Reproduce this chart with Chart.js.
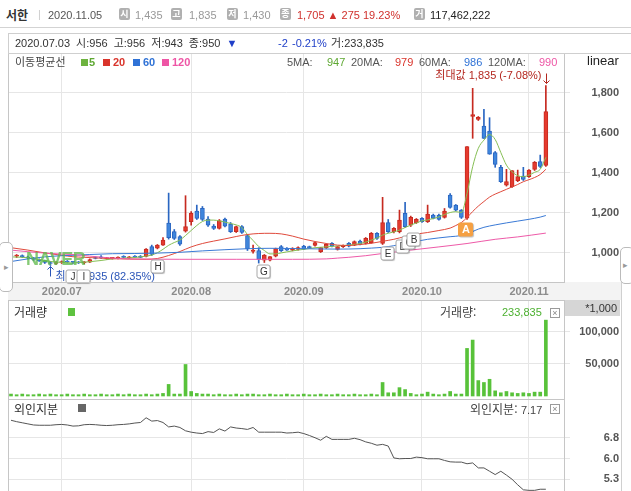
<!DOCTYPE html>
<html lang="ko">
<head>
<meta charset="utf-8">
<title>서한</title>
<script src="https://cdn.jsdelivr.net/npm/chart.js@4.4.1/dist/chart.umd.min.js"></script>
<style>
  body { margin:0; width:631px; height:491px; overflow:hidden; position:relative; background:#fff;
    font-family:"Liberation Sans","Noto Sans CJK KR",sans-serif; font-size:11px; color:#333; }
  .a { position:absolute; white-space:nowrap; line-height:13px; }
  canvas { position:absolute; left:8px; }
  .ico { position:absolute; top:8px; width:11px; height:12px; background:#b0b0b0; border-radius:2px; color:#fff;
    font:bold 9px/12px "Noto Sans CJK KR"; text-align:center; }
  .sq { position:absolute; width:7px; height:7px; }
  .kr { font-family:"Noto Sans CJK KR"; }
  .x { position:absolute; width:8px; height:8px; border:1px solid #9a9a9a; font:9px/8px "Liberation Sans"; color:#888; text-align:center; }
  .tab { position:absolute; width:12px; border:1px solid #bbb; background:#fff; border-radius:5px; color:#999; font-size:9px; }
</style>
</head>
<body>
<!-- backgrounds -->
<div class="a" style="left:0;top:0;width:631px;height:27px;border-bottom:1px solid #d3d3d3"></div>
<div class="a" style="left:8px;top:282px;width:614px;height:18px;background:#f3f3f3"></div>
<div class="a" style="left:621px;top:282px;width:1px;height:209px;background:#d0d0d0"></div>

<canvas id="price" width="611" height="247" style="top:53px"></canvas>
<canvas id="vol" width="611" height="99" style="top:300px"></canvas>
<canvas id="frgn" width="611" height="100" style="top:399px"></canvas>

<!-- top quote bar -->
<div class="a kr" style="left:6px;top:8px;font-size:12px;font-weight:bold;color:#333">서한</div>
<div class="a" style="left:38px;top:8px;color:#ccc">|</div>
<div class="a" style="left:48px;top:9px;color:#555">2020.11.05</div>
<div class="ico" style="left:119px">시</div><div class="a" style="left:135px;top:9px;color:#999">1,435</div>
<div class="ico" style="left:171px">고</div><div class="a" style="left:189px;top:9px;color:#999">1,835</div>
<div class="ico" style="left:227px">저</div><div class="a" style="left:243px;top:9px;color:#999">1,430</div>
<div class="ico" style="left:280px">종</div><div class="a" style="left:297px;top:9px;color:#d0312d">1,705 ▲ 275 19.23%</div>
<div class="ico" style="left:414px">거</div><div class="a" style="left:430px;top:9px;color:#222">117,462,222</div>

<!-- crosshair info -->
<div class="a" style="left:8px;top:33px;width:623px;height:21px;box-sizing:border-box;border:1px solid #cfcfcf;border-right:none"></div>
<div class="a" style="left:15px;top:37px;color:#333;word-spacing:3px">2020.07.03 시:956 고:956 저:943 종:950 <span style="color:#1f3fc8">▼</span></div>
<div class="a" style="left:278px;top:37px;color:#1f3fc8">-2</div>
<div class="a" style="left:292px;top:37px;color:#1f3fc8">-0.21%</div>
<div class="a" style="left:331px;top:37px;color:#333">거:233,835</div>

<!-- MA legend -->
<div class="a kr" style="left:15px;top:55px;color:#444">이동평균선</div>
<div class="sq" style="left:81px;top:59px;background:#6db33f"></div><div class="a" style="left:89px;top:56px;color:#5ea832;font-weight:bold">5</div>
<div class="sq" style="left:103px;top:59px;background:#d9342b"></div><div class="a" style="left:113px;top:56px;color:#d9342b;font-weight:bold">20</div>
<div class="sq" style="left:133px;top:59px;background:#2f72d6"></div><div class="a" style="left:143px;top:56px;color:#2f72d6;font-weight:bold">60</div>
<div class="sq" style="left:162px;top:59px;background:#ee55a5"></div><div class="a" style="left:172px;top:56px;color:#ee55a5;font-weight:bold">120</div>
<div class="a" style="left:287px;top:56px;color:#555">5MA:</div><div class="a" style="left:327px;top:56px;color:#5ea832">947</div>
<div class="a" style="left:351px;top:56px;color:#555">20MA:</div><div class="a" style="left:395px;top:56px;color:#d9342b">979</div>
<div class="a" style="left:419px;top:56px;color:#555">60MA:</div><div class="a" style="left:464px;top:56px;color:#2f72d6">986</div>
<div class="a" style="left:488px;top:56px;color:#555">120MA:</div><div class="a" style="left:539px;top:56px;color:#ee55a5">990</div>
<div class="a" style="left:587px;top:54px;color:#222;font-size:13px">linear</div>

<div class="a" style="left:26px;top:253px;font-size:18px;font-weight:bold;color:#5cb848;opacity:.75;letter-spacing:-0.5px">NAVER</div>

<!-- volume header -->
<div class="a kr" style="left:14px;top:305px;font-size:12px;color:#333">거래량</div>
<div class="sq" style="left:68px;top:308px;width:7px;height:8px;background:#5ec23f"></div>
<div class="a kr" style="left:440px;top:305px;font-size:12px;color:#444">거래량:</div>
<div class="a" style="left:502px;top:306px;color:#4cb030">233,835</div>
<div class="x" style="left:550px;top:308px">×</div>
<div class="a" style="left:565px;top:300px;width:55px;height:16px;background:#d6d6d6;text-align:right;color:#333;line-height:16px"><span style="padding-right:3px">*1,000</span></div>

<!-- foreign ownership header -->
<div class="a kr" style="left:14px;top:402px;font-size:12px;color:#333">외인지분</div>
<div class="sq" style="left:78px;top:404px;width:8px;height:8px;background:#666"></div>
<div class="a kr" style="left:470px;top:402px;font-size:12px;color:#444">외인지분: <span style="font-family:'Liberation Sans';font-size:11px">7.17</span></div>
<div class="x" style="left:550px;top:404px">×</div>

<!-- side tabs -->
<div class="tab" style="left:-1px;top:242px;height:48px;line-height:48px;text-align:center">▸</div>
<div class="tab" style="left:620px;top:247px;height:35px;line-height:35px;text-indent:2px">▸</div>

<script>
// trading days shown on the chart
const dates = [
  '2020.06.18','2020.06.19','2020.06.22','2020.06.23','2020.06.24','2020.06.25','2020.06.26','2020.06.29','2020.06.30',
  '2020.07.01','2020.07.02','2020.07.03','2020.07.06','2020.07.07','2020.07.08','2020.07.09','2020.07.10','2020.07.13','2020.07.14',
  '2020.07.15','2020.07.16','2020.07.17','2020.07.20','2020.07.21','2020.07.22','2020.07.23','2020.07.24','2020.07.27','2020.07.28',
  '2020.07.29','2020.07.30','2020.07.31',
  '2020.08.03','2020.08.04','2020.08.05','2020.08.06','2020.08.07','2020.08.10','2020.08.11','2020.08.12','2020.08.13','2020.08.14',
  '2020.08.18','2020.08.19','2020.08.20','2020.08.21','2020.08.24','2020.08.25','2020.08.26','2020.08.27','2020.08.28','2020.08.31',
  '2020.09.01','2020.09.02','2020.09.03','2020.09.04','2020.09.07','2020.09.08','2020.09.09','2020.09.10','2020.09.11','2020.09.14',
  '2020.09.15','2020.09.16','2020.09.17','2020.09.18','2020.09.21','2020.09.22','2020.09.23','2020.09.24','2020.09.25','2020.09.28',
  '2020.09.29',
  '2020.10.05','2020.10.06','2020.10.07','2020.10.08','2020.10.12','2020.10.13','2020.10.14','2020.10.15','2020.10.16','2020.10.19',
  '2020.10.20','2020.10.21','2020.10.22','2020.10.23','2020.10.26','2020.10.27','2020.10.28','2020.10.29','2020.10.30',
  '2020.11.02','2020.11.03','2020.11.04','2020.11.05'
]

const open = [985,982,985,978,972,965,958,950,945,950, 955,956,950,948,952,975,978,970,971,972,
  980,973,980,981,980,1029,1022,1037,1147,1104, 1079,1107,1154,1207,1221,1167,1132,1121,1167,1142,
  1104,1129,1085,1005,1009,962,962,982,1029,1020, 1012,1016,1032,1029,1036,1004,1024,1046,1016,1029,
  1046,1037,1057,1046,1049,1096,1046,1149,1104,1104, 1196,1137,1149,1171,1154,1187,1187,1176,1287,1237,
  1212,1172,1680,1666,1632,1607,1499,1426,1337,1329, 1359,1382,1379,1416,1454,1435]
const high = [992,990,988,982,975,968,962,955,955,958, 960,956,955,955,968,978,985,975,976,978,
  984,980,985,985,1020,1037,1040,1075,1297,1115, 1085,1284,1204,1237,1230,1180,1140,1165,1172,1150,
  1132,1135,1090,1037,1024,990,980,1022,1035,1025, 1024,1028,1036,1032,1052,1026,1044,1050,1030,1038,
  1050,1058,1062,1075,1100,1100,1276,1165,1125,1212, 1251,1182,1170,1175,1237,1192,1192,1220,1295,1240,
  1215,1530,1821,1680,1716,1674,1505,1436,1416,1409, 1412,1426,1415,1455,1487,1835]
const low = [978,975,975,968,960,955,945,935,940,945, 948,943,945,944,950,968,970,966,967,968,
  974,970,975,974,978,985,1018,1035,1067,1065, 1035,1102,1137,1165,1160,1130,1115,1117,1128,1100,
  1100,1096,1010,997,947,950,958,978,1005,1010, 1008,1012,1014,1020,1032,1000,1020,1028,1012,1025,
  1028,1034,1038,1042,1046,1066,1040,1100,1098,1098, 1125,1130,1145,1150,1150,1168,1162,1172,1222,1208,
  1170,1165,1571,1660,1571,1491,1426,1350,1332,1325, 1354,1360,1375,1410,1425,1430]
const close = [982,985,978,972,965,958,950,945,950,952, 952,950,948,950,965,970,973,973,974,975,
  976,978,977,976,1017,990,1037,1062,1074,1071, 1042,1129,1196,1171,1166,1137,1121,1159,1132,1104,
  1129,1100,1018,1012,966,987,979,1020,1009,1012, 1021,1024,1017,1024,1049,1024,1041,1032,1029,1036,
  1032,1054,1041,1071,1096,1071,1149,1104,1121,1162, 1129,1176,1166,1154,1192,1171,1166,1207,1226,1212,
  1176,1530,1690,1676,1571,1492,1441,1354,1354,1409, 1379,1366,1412,1451,1430,1705]

// moving averages (null = not read, line spans the gap)
const ma5 = [978,null,976,null,970,null,960,null,952,null, 950,947,950,null,954,null,960,null,968,null,
  972,null,975,null,982,987,999,1016,1036,1050, 1062,1085,1110,1135,1155,1162,1162,1158,1152,1145,
  1138,1125,1090,1060,1030,1010,993,993,998,1003, 1008,1012,1016,1020,1024,null,1028,null,1033,null,
  1037,null,1045,1052,1062,1072,1087,1096,1103,1112, 1125,1137,1148,1158,1163,1170,1178,1190,1200,1204,
  1200,1296,1429,1521,1562,1590,1565,1500,1437,1404, 1384,1379,1387,1401,1416,1476]
const ma20 = [1024,null,null,1012,null,null,998,null,null,986, null,979,null,976,null,973,null,null,969,null,
  null,967,null,null,966,null,970,null,985,null, 1005,null,1028,null,1045,null,1057,null,1068,null,
  1080,null,1090,null,1095,null,1096,null,1093,null, 1082,null,1067,null,1055,null,1045,null,1037,null,
  1035,null,1040,null,1046,null,1056,null,1066,null, 1080,null,1092,null,1100,null,1110,null,1122,1135,
  1150,1175,1205,1232,1255,1277,1292,1304,1316,1328, 1340,1354,1364,1375,1390,1416]
const ma60 = [955,null,null,968,null,null,978,null,null,984, null,986,null,null,990,null,null,null,994,null,
  null,null,995,null,null,null,997,null,null,null, 1001,null,null,null,1008,null,null,null,1014,null,
  null,null,1019,null,null,null,1021,null,null,null, 1020,null,null,null,1018,null,null,null,1017,null,
  null,null,1019,null,1022,null,1026,null,1034,null, 1045,null,1056,null,1066,null,1073,null,1079,null,
  1085,1094,1105,1117,1126,null,1138,null,1148,null, 1157,null,1166,null,1177,1185]
const ma120 = [1012,null,null,1004,null,null,997,null,null,992, null,990,null,null,982,null,null,974,null,null,
  969,null,null,null,967,null,null,null,null,null, 966,null,null,null,null,null,null,null,null,null,
  966,null,null,null,null,null,null,null,null,null, 966,null,null,null,null,null,968,null,972,null,
  976,null,null,984,null,null,995,null,null,null, null,1012,null,null,null,null,1028,null,null,null,
  null,1045,null,null,null,null,1066,null,null,null, 1078,null,null,null,null,1097]

// volume in thousands of shares
const volume = [3,2,3,2,2,3,2,3,2,2, 3,2,2,3,2,2,3,2,2,3, 2,3,2,2,3,2,3,4,18,3,
  3,49,7,4,3,3,2,3,2,2, 3,2,3,3,2,2,3,2,2,3, 2,2,3,2,2,3,2,2,3,2,
  2,3,2,2,3,2,21,5,5,13, 10,4,2,3,6,3,2,3,7,3, 3,74,87,24,21,26,8,5,7,5, 4,5,4,6,6,118]

// foreign ownership, %
const foreign = [7.38,7.33,7.29,7.25,7.21,7.20,7.20,7.20,7.22,7.23, 7.21,7.17,7.18,7.22,7.23,7.22,7.20,7.19,7.20,7.22,
  7.23,7.25,7.28,7.30,7.47,7.35,7.37,7.30,7.14,7.17, 7.12,7.00,6.95,6.92,6.90,6.97,6.94,7.07,6.99,7.14,
  7.10,7.08,7.05,7.12,6.95,6.95,6.95,6.95,6.95,6.92, 6.93,6.95,6.90,6.83,6.75,6.66,6.80,6.69,6.69,6.69,
  6.69,6.73,6.68,6.60,6.55,6.48,6.51,6.45,6.02,5.99, 6.00,6.00,6.05,6.03,5.99,5.99,5.99,5.93,5.88,5.87,
  5.87,5.81,5.84,5.66,5.66,5.54,5.42,5.54,5.40,5.25, 5.05,4.87,4.85,4.85,4.89,4.89]

const priceTicks = [1000, 1200, 1400, 1600, 1800]
const volumeTicks = [50, 100]
const foreignTicks = [5.25, 6.0, 6.75]

// event flags on the price pane: letter, day index, price level
const flagText = ['J', 'I', 'H', 'G', 'E', 'D', 'C', 'B', 'A']
const flagDay = [10.8, 12.8, 25.9, 44.7, 66.7, 69.4, 70.5, 71.4, 80.7]
const flagPrice = [882, 882, 935, 907, 1000, 1032, 1052, 1067, 1117]

const RED = '#e53a2e', RED_D = '#c62a20', BLUE = '#3f86dc', BLUE_D = '#2a66c2'

Chart.defaults.font.family = '"Liberation Sans", "Noto Sans CJK KR", sans-serif'
Chart.defaults.animation = false
Chart.defaults.responsive = false
Chart.defaults.events = []
Chart.defaults.plugins.legend.display = false
Chart.defaults.plugins.tooltip.enabled = false

const monthStart = dates.map((d, i) => i).filter(i => i > 0 && dates[i].slice(0, 7) !== dates[i - 1].slice(0, 7))

// the panes share one pixel grid, so scales must not pad themselves
const noPad = axis => { axis.paddingTop = axis.paddingBottom = axis.paddingLeft = axis.paddingRight = 0 }

const timeAxis = withLabels => ({
  type: 'linear', min: -0.533, max: 98.4, offset: false,
  afterBuildTicks: axis => { axis.ticks = monthStart.map(v => ({ value: v })) },
  afterFit: axis => { axis.height = withLabels ? 18 : 0; noPad(axis) },
  grid: { color: '#e6e6e6', drawTicks: false, offset: false },
  border: { display: false },
  ticks: {
    display: withLabels, padding: 3, autoSkip: false, maxRotation: 0, color: '#8c8c8c',
    font: { size: 11, weight: 'bold' },
    callback: v => dates[v] ? dates[v].slice(0, 7) : ''
  }
})

// labels are right-aligned on the canvas edge (page x 619)
const valueAxis = (min, max, ticks, fmt) => ({
  position: 'right', min, max,
  afterBuildTicks: axis => { axis.ticks = ticks.map(v => ({ value: v })) },
  afterFit: axis => { axis.width = 54; noPad(axis) },
  grid: { color: '#e6e6e6', tickLength: 5 },
  border: { display: false },
  ticks: { crossAlign: 'far', padding: 0, color: '#555', font: { size: 11, weight: 'bold' }, callback: fmt }
})

const frame = {
  id: 'frame',
  beforeDraw(chart) {
    const { ctx, chartArea: a } = chart
    ctx.save()
    ctx.fillStyle = '#fff'
    ctx.fillRect(a.left, a.top, a.width, a.height)
    ctx.restore()
  },
  afterDraw(chart) {
    const { ctx, chartArea: a } = chart
    ctx.save()
    ctx.strokeStyle = '#c6c6c6'
    ctx.lineWidth = 1
    ctx.strokeRect(a.left + 0.5, a.top + 0.5, a.width - 1, a.height)
    ctx.restore()
  }
}

const arrow = (ctx, x, y0, y1) => {
  const dir = y1 > y0 ? 1 : -1
  ctx.beginPath()
  ctx.moveTo(x, y0); ctx.lineTo(x, y1)
  ctx.moveTo(x - 3, y1 - 3 * dir); ctx.lineTo(x, y1); ctx.lineTo(x + 3, y1 - 3 * dir)
  ctx.stroke()
}

// max / min labels and event flags
const notes = {
  id: 'notes',
  afterDatasetsDraw(chart) {
    const { ctx, scales: { x, y } } = chart
    const last = close[close.length - 1]
    const hi = Math.max(...high), iHi = high.indexOf(hi)
    const lo = Math.min(...low), iLo = low.indexOf(lo)
    ctx.save()
    ctx.font = '11px "Liberation Sans", "Noto Sans CJK KR"'
    ctx.textBaseline = 'middle'
    ctx.lineWidth = 1

    let px = Math.round(x.getPixelForValue(iHi)) + 0.5, py = y.getPixelForValue(hi)
    ctx.strokeStyle = ctx.fillStyle = '#b3261e'
    arrow(ctx, px, py - 12, py - 2)
    ctx.textAlign = 'right'
    ctx.fillText(`최대값 ${hi.toLocaleString('en-US')} (${((last - hi) / hi * 100).toFixed(2)}%)`, px - 5, py - 10)

    px = Math.round(x.getPixelForValue(iLo)) + 0.5; py = y.getPixelForValue(lo)
    ctx.strokeStyle = ctx.fillStyle = '#2a55b8'
    arrow(ctx, px, py + 11, py + 1)
    ctx.textAlign = 'left'
    ctx.fillText(`최저값 ${lo.toLocaleString('en-US')} (${((last - lo) / lo * 100).toFixed(2)}%)`, px + 5, py + 11)

    ctx.textAlign = 'center'
    flagText.forEach((t, k) => {
      const cx = Math.round(x.getPixelForValue(flagDay[k])), cy = Math.round(y.getPixelForValue(flagPrice[k]))
      const big = t === 'A'
      const w = big ? 15 : 13, h = big ? 14 : 13
      ctx.beginPath()
      ctx.roundRect(cx - w / 2 + 0.5, cy - h / 2 + 0.5, w, h, 2)
      ctx.fillStyle = big ? '#f5a043' : '#fff'
      ctx.shadowColor = 'rgba(0,0,0,0.25)'; ctx.shadowOffsetX = 1; ctx.shadowOffsetY = 1; ctx.shadowBlur = 1
      ctx.fill()
      ctx.shadowColor = 'transparent'
      if (!big) { ctx.strokeStyle = '#a8a8a8'; ctx.stroke() }
      ctx.fillStyle = big ? '#fff' : '#333'
      ctx.font = big ? 'bold 11px "Liberation Sans"' : '10px "Liberation Sans"'
      ctx.fillText(t, cx + 1, cy + 1)
    })
    ctx.restore()
  }
}

const up = dates.map((d, i) => close[i] >= open[i])
const maLine = (data, color) => ({
  type: 'line', data: data.map((v, i) => ({ x: i, y: v })), borderColor: color, borderWidth: 1,
  pointRadius: 0, spanGaps: true, cubicInterpolationMode: 'monotone', order: 0
})

const layout = { padding: 0, autoPadding: false }

new Chart(document.getElementById('price'), {
  type: 'bar',
  data: {
    datasets: [
      maLine(ma120, '#ee5aa8'),
      maLine(ma60, '#3a7ad6'),
      maLine(ma20, '#e04a3c'),
      maLine(ma5, '#86bf55'),
      {
        data: dates.map((d, i) => ({ x: i, y: [low[i], high[i]] })),
        backgroundColor: up.map(u => u ? RED_D : BLUE_D),
        barThickness: 1, grouped: false, order: 2
      },
      {
        data: dates.map((d, i) => ({ x: i, y: [open[i], close[i]] })),
        backgroundColor: up.map(u => u ? RED : BLUE),
        borderColor: up.map(u => u ? RED_D : BLUE_D),
        borderWidth: 1, borderSkipped: false, minBarLength: 1,
        barThickness: 4, grouped: false, order: 1
      }
    ]
  },
  options: {
    layout,
    scales: {
      x: timeAxis(true),
      y: valueAxis(852.5, 1997.5, priceTicks, v => v.toLocaleString('en-US'))
    }
  },
  plugins: [frame, notes]
})

new Chart(document.getElementById('vol'), {
  type: 'bar',
  data: {
    datasets: [{
      data: dates.map((d, i) => ({ x: i, y: volume[i] })),
      backgroundColor: '#58c23a', barThickness: 3, grouped: false
    }]
  },
  options: {
    layout,
    scales: {
      x: timeAxis(false),
      y: valueAxis(-4.67, 149.3, volumeTicks, v => (v * 1000).toLocaleString('en-US'))
    }
  },
  plugins: [frame]
})

new Chart(document.getElementById('frgn'), {
  type: 'line',
  data: {
    datasets: [{
      data: dates.map((d, i) => ({ x: i, y: foreign[i] })),
      borderColor: '#555', borderWidth: 1, pointRadius: 0, tension: 0
    }]
  },
  options: {
    layout,
    scales: {
      x: timeAxis(false),
      y: valueAxis(4.538, 8.148, foreignTicks, v => v.toFixed(1))
    }
  },
  plugins: [frame]
})
</script>
</body>
</html>
